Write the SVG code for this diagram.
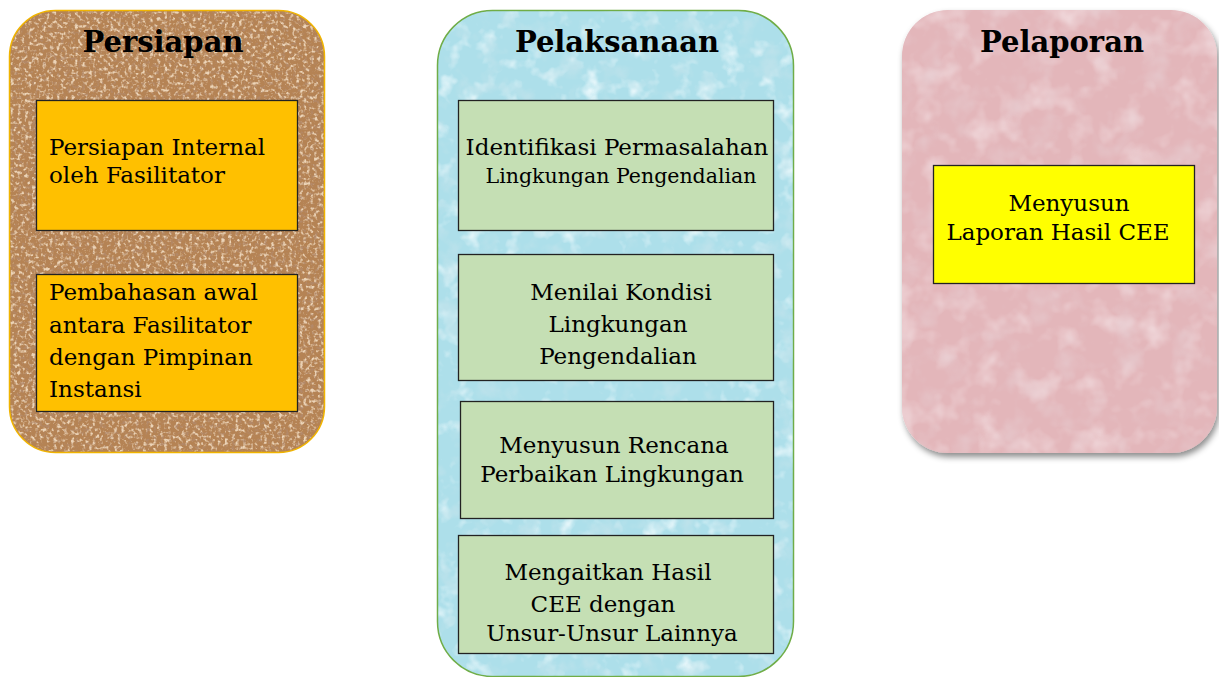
<svg xmlns="http://www.w3.org/2000/svg" width="1219" height="677" viewBox="0 0 1219 677">
<defs>
<filter id="sand" x="0" y="0" width="100%" height="100%">
<feTurbulence type="fractalNoise" baseFrequency="0.28" numOctaves="2" seed="3" result="n"/>
<feColorMatrix in="n" type="matrix" values="0 0 0 0 0.84  0 0 0 0 0.66  0 0 0 0 0.48  4 0 0 0 -2.0" result="light"/>
<feColorMatrix in="n" type="matrix" values="0 0 0 0 0.45  0 0 0 0 0.25  0 0 0 0 0.14  0 -4 0 0 1.85" result="dark"/>
<feMerge result="m"><feMergeNode in="light"/><feMergeNode in="dark"/></feMerge>
<feComposite in="m" in2="SourceGraphic" operator="in"/>
</filter>
<filter id="water" x="0" y="0" width="100%" height="100%">
<feTurbulence type="fractalNoise" baseFrequency="0.05" numOctaves="3" seed="7" result="n"/>
<feColorMatrix in="n" type="matrix" values="0 0 0 0 0.82  0 0 0 0 0.94  0 0 0 0 0.97  3 0 0 0 -1.6" result="light"/>
<feColorMatrix in="n" type="matrix" values="0 0 0 0 0.50  0 0 0 0 0.76  0 0 0 0 0.83  0 -3 0 0 1.5" result="dark"/>
<feMerge result="m"><feMergeNode in="light"/><feMergeNode in="dark"/></feMerge>
<feComposite in="m" in2="SourceGraphic" operator="in"/>
</filter>
<filter id="paper" x="0" y="0" width="100%" height="100%">
<feTurbulence type="fractalNoise" baseFrequency="0.035" numOctaves="3" seed="11" result="n"/>
<feColorMatrix in="n" type="matrix" values="0 0 0 0 0.92  0 0 0 0 0.80  0 0 0 0 0.82  1.6 0 0 0 -0.8" result="light"/>
<feColorMatrix in="n" type="matrix" values="0 0 0 0 0.80  0 0 0 0 0.62  0 0 0 0 0.65  0 -1.6 0 0 0.8" result="dark"/>
<feMerge result="m"><feMergeNode in="light"/><feMergeNode in="dark"/></feMerge>
<feComposite in="m" in2="SourceGraphic" operator="in"/>
</filter>
<filter id="shadow" x="-10%" y="-10%" width="120%" height="120%">
<feGaussianBlur in="SourceAlpha" stdDeviation="3"/>
<feOffset dx="2" dy="4" result="b"/>
<feFlood flood-color="#000" flood-opacity="0.45"/>
<feComposite in2="b" operator="in"/>
<feMerge><feMergeNode/><feMergeNode in="SourceGraphic"/></feMerge>
</filter>
</defs>
<style>
.title{font-family:"DejaVu Serif","Liberation Serif",serif;font-weight:bold;font-size:29px;fill:#000;text-anchor:middle}
.t{font-family:"DejaVu Serif","Liberation Serif",serif;font-size:23px;fill:#000}
.c{text-anchor:middle}
.box{stroke:#222;stroke-width:1.3}
</style>
<g id="persiapan">
<rect x="9.5" y="10.5" width="315" height="442" rx="46" fill="#b58354" stroke="#f0b400" stroke-width="1.5"/>
<rect x="10.5" y="11.5" width="313" height="440" rx="45" fill="#000" filter="url(#sand)"/>
<text class="title" x="163" y="52">Persiapan</text>
</g>
<g id="pelaksanaan">
<rect x="437.5" y="10.5" width="356" height="666" rx="55" fill="#addfea" stroke="#70ad47" stroke-width="1.5"/>
<rect x="438.5" y="11.5" width="354" height="664" rx="54" fill="#000" filter="url(#water)"/>
<text class="title" x="617" y="52">Pelaksanaan</text>
</g>
<g id="pelaporan">
<rect x="902" y="10" width="315" height="443" rx="46" fill="#e3b6ba" filter="url(#shadow)"/>
<rect x="902" y="10" width="315" height="443" rx="46" fill="#000" filter="url(#paper)"/>
<text class="title" x="1062" y="52">Pelaporan</text>
</g>
<g id="n1">
<rect class="box" x="36.5" y="100.5" width="261" height="130" fill="#ffc000"/>
<text class="t" x="49" y="155">Persiapan Internal</text>
<text class="t" x="49" y="183">oleh Fasilitator</text>
</g>
<g id="n2">
<rect class="box" x="36.5" y="274.5" width="261" height="137" fill="#ffc000"/>
<text class="t" x="49" y="300">Pembahasan awal</text>
<text class="t" x="49" y="333">antara Fasilitator</text>
<text class="t" x="49" y="365">dengan Pimpinan</text>
<text class="t" x="49" y="397">Instansi</text>
</g>
<g id="n3">
<rect class="box" x="458.5" y="100.5" width="315" height="130" fill="#c5dfb4"/>
<text class="t c" x="617" y="155">Identifikasi Permasalahan</text>
<text class="t c" x="621" y="183" style="font-size:20.5px">Lingkungan Pengendalian</text>
</g>
<g id="n4">
<rect class="box" x="458.5" y="254.5" width="315" height="126" fill="#c5dfb4"/>
<text class="t c" x="621" y="300">Menilai Kondisi</text>
<text class="t c" x="618" y="332">Lingkungan</text>
<text class="t c" x="618" y="364">Pengendalian</text>
</g>
<g id="n5">
<rect class="box" x="460.5" y="401.5" width="313" height="117" fill="#c5dfb4"/>
<text class="t c" x="614" y="453">Menyusun Rencana</text>
<text class="t c" x="612" y="482">Perbaikan Lingkungan</text>
</g>
<g id="n6">
<rect class="box" x="458.5" y="535.5" width="315" height="118" fill="#c5dfb4"/>
<text class="t c" x="608" y="580">Mengaitkan Hasil</text>
<text class="t c" x="603" y="612">CEE dengan</text>
<text class="t c" x="612" y="641">Unsur-Unsur Lainnya</text>
</g>
<g id="n7">
<rect class="box" x="933.5" y="165.5" width="261" height="118" fill="#ffff00"/>
<text class="t c" x="1069" y="211">Menyusun</text>
<text class="t c" x="1058" y="240">Laporan Hasil CEE</text>
</g>
<g id="connectors"/>
</svg>
